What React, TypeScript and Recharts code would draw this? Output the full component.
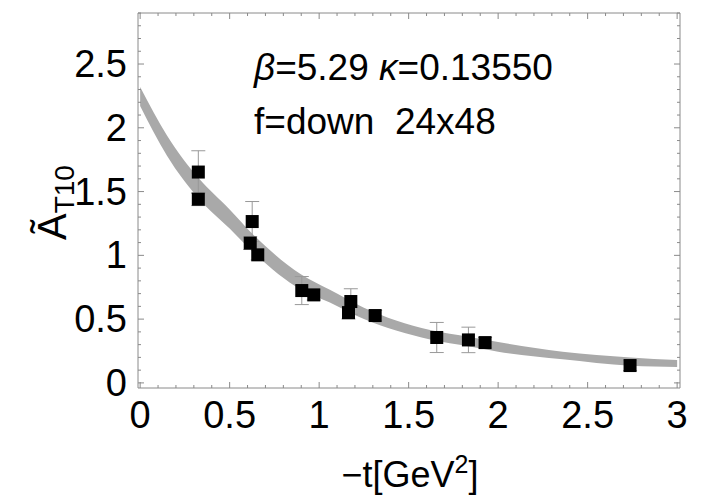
import { ComposedChart, Area, Scatter, ErrorBar, XAxis, YAxis } from "recharts";

// grey fit band: -t, lower edge, upper edge
const bandT = [0, 0.15, 0.33, 0.5, 0.62, 0.9, 1.06, 1.25, 1.43, 1.62, 1.84, 2.0, 2.36, 2.74, 3.0];
const bandLow = [2.17, 1.78, 1.44, 1.21, 1.04, 0.73, 0.63, 0.5, 0.41, 0.34, 0.285, 0.245, 0.185, 0.135, 0.125];
const bandHigh = [2.32, 1.94, 1.6, 1.36, 1.18, 0.85, 0.73, 0.59, 0.49, 0.415, 0.36, 0.32, 0.245, 0.2, 0.18];

// lattice points
const pointT = [0.325, 0.325, 0.626, 0.615, 0.657, 0.903, 0.97, 1.177, 1.164, 1.313, 1.657, 1.834, 1.927, 2.737];
const pointA = [1.653, 1.44, 1.265, 1.096, 1.004, 0.724, 0.69, 0.638, 0.551, 0.528, 0.356, 0.337, 0.316, 0.136];
const pointErr = [0.167, 0.05, 0.157, 0.05, 0.04, 0.11, 0.04, 0.1, 0.05, 0.04, 0.118, 0.1, 0.04, 0.04];

const xMajorTicks = [0, 0.5, 1, 1.5, 2, 2.5, 3];
const xTickLabels = ["0", "0.5", "1", "1.5", "2", "2.5", "3"];
const yMajorTicks = [0, 0.5, 1, 1.5, 2, 2.5];
const yTickLabels = ["0", "0.5", "1", "1.5", "2", "2.5"];
const xAllTicks = Array.from({ length: 31 }, (_, i) => i / 10);
const yAllTicks = Array.from({ length: 30 }, (_, i) => i / 10);

const bandData = bandT.map((t, i) => ({ t, band: [bandLow[i], bandHigh[i]] }));
const pointData = pointT.map((t, i) => ({ t, a: pointA[i], err: pointErr[i] }));

const FONT = "'Liberation Sans', Arial, Helvetica, sans-serif";
const FRAME = "#8a8a8a";
const W = 702;
const H = 498;
const X_DOMAIN = [-0.012, 3.016];
const Y_DOMAIN = [-0.04, 2.9];

function labelFor(v: number, majors: number[], labels: string[]) {
  const i = majors.findIndex((m) => Math.abs(m - v) < 1e-9);
  return i >= 0 ? labels[i] : null;
}

function BottomTick(props: any) {
  const { x, y, payload } = props;
  const label = labelFor(payload.value, xMajorTicks, xTickLabels);
  return (
    <g>
      <line x1={x} y1={y} x2={x} y2={y - (label ? 6 : 3)} stroke={FRAME} />
      {label && (
        <text x={x} y={y + 40} textAnchor="middle" fontSize={38} fontFamily={FONT} fill="#000">
          {label}
        </text>
      )}
    </g>
  );
}

function TopTick(props: any) {
  const { x, y, payload } = props;
  const major = labelFor(payload.value, xMajorTicks, xTickLabels);
  return <line x1={x} y1={y} x2={x} y2={y + (major ? 6 : 3)} stroke={FRAME} />;
}

function LeftTick(props: any) {
  const { x, y, payload } = props;
  const label = labelFor(payload.value, yMajorTicks, yTickLabels);
  return (
    <g>
      <line x1={x} y1={y} x2={x + (label ? 6 : 3)} y2={y} stroke={FRAME} />
      {label && (
        <text x={x - 11} y={y + 13} textAnchor="end" fontSize={38} fontFamily={FONT} fill="#000">
          {label}
        </text>
      )}
    </g>
  );
}

function RightTick(props: any) {
  const { x, y, payload } = props;
  const major = labelFor(payload.value, yMajorTicks, yTickLabels);
  return <line x1={x} y1={y} x2={x - (major ? 6 : 3)} y2={y} stroke={FRAME} />;
}

function SquareDot(props: any) {
  const { cx, cy } = props;
  if (cx == null || cy == null) return null;
  return <rect x={cx - 6.5} y={cy - 6.5} width={13} height={13} fill="#000" />;
}

export default function App() {
  return (
    <div style={{ position: "relative", width: W, height: H, background: "#fff" }}>
      <style>{`body{margin:0;background:#fff}`}</style>
      <ComposedChart
        width={W}
        height={H}
        data={bandData}
        margin={{ top: 12, right: 21, bottom: 50, left: 0 }}
      >
        <XAxis
          dataKey="t"
          type="number"
          domain={X_DOMAIN}
          allowDataOverflow
          ticks={xAllTicks}
          interval={0}
          height={60}
          tickSize={0}
          tickMargin={0}
          tickLine={false}
          axisLine={{ stroke: FRAME }}
          tick={<BottomTick />}
        />
        <XAxis
          xAxisId="top"
          orientation="top"
          dataKey="t"
          type="number"
          domain={X_DOMAIN}
          allowDataOverflow
          ticks={xAllTicks}
          interval={0}
          height={1}
          tickSize={0}
          tickMargin={0}
          tickLine={false}
          axisLine={{ stroke: FRAME }}
          tick={<TopTick />}
        />
        <YAxis
          dataKey="a"
          type="number"
          domain={Y_DOMAIN}
          allowDataOverflow
          ticks={yAllTicks}
          interval={0}
          width={138}
          tickSize={0}
          tickMargin={0}
          tickLine={false}
          axisLine={{ stroke: FRAME }}
          tick={<LeftTick />}
        />
        <YAxis
          yAxisId="right"
          orientation="right"
          dataKey="a"
          type="number"
          domain={Y_DOMAIN}
          allowDataOverflow
          ticks={yAllTicks}
          interval={0}
          width={1}
          tickSize={0}
          tickMargin={0}
          tickLine={false}
          axisLine={{ stroke: FRAME }}
          tick={<RightTick />}
        />
        <Area
          type="monotone"
          dataKey="band"
          stroke="none"
          fill="#a9a9a9"
          fillOpacity={1}
          isAnimationActive={false}
          activeDot={false}
          dot={false}
        />
        <Scatter data={pointData} dataKey="a" shape={<SquareDot />} isAnimationActive={false}>
          <ErrorBar dataKey="err" direction="y" width={7} stroke="#999" strokeWidth={1} isAnimationActive={false} />
        </Scatter>
        {/* invisible series so the top and right axes are drawn */}
        <Scatter
          data={pointData}
          dataKey="a"
          xAxisId="top"
          yAxisId="right"
          shape={() => <g />}
          isAnimationActive={false}
        />
      </ComposedChart>
      <svg
        width={W}
        height={H}
        style={{ position: "absolute", left: 0, top: 0, pointerEvents: "none" }}
        fontFamily={FONT}
      >
        <text x={254} y={80} fontSize={37} fill="#000">
          <tspan fontStyle="italic">β</tspan>=5.29{"\u00a0"}
          <tspan fontStyle="italic">κ</tspan>=0.13550
        </text>
        <text x={254} y={134} fontSize={37} fill="#000">
          f=down{"\u00a0\u00a0"}24x48
        </text>
        <text x={410} y={487} textAnchor="middle" fontSize={36} fill="#000">
          −t[GeV<tspan dy={-14} fontSize={25}>2</tspan>
          <tspan dy={14}>]</tspan>
        </text>
        <text transform="translate(66,240) rotate(-90)" fill="#000">
          <tspan fontSize={40}>Ã</tspan>
          <tspan fontSize={28} dy={8}>T10</tspan>
        </text>
      </svg>
    </div>
  );
}
